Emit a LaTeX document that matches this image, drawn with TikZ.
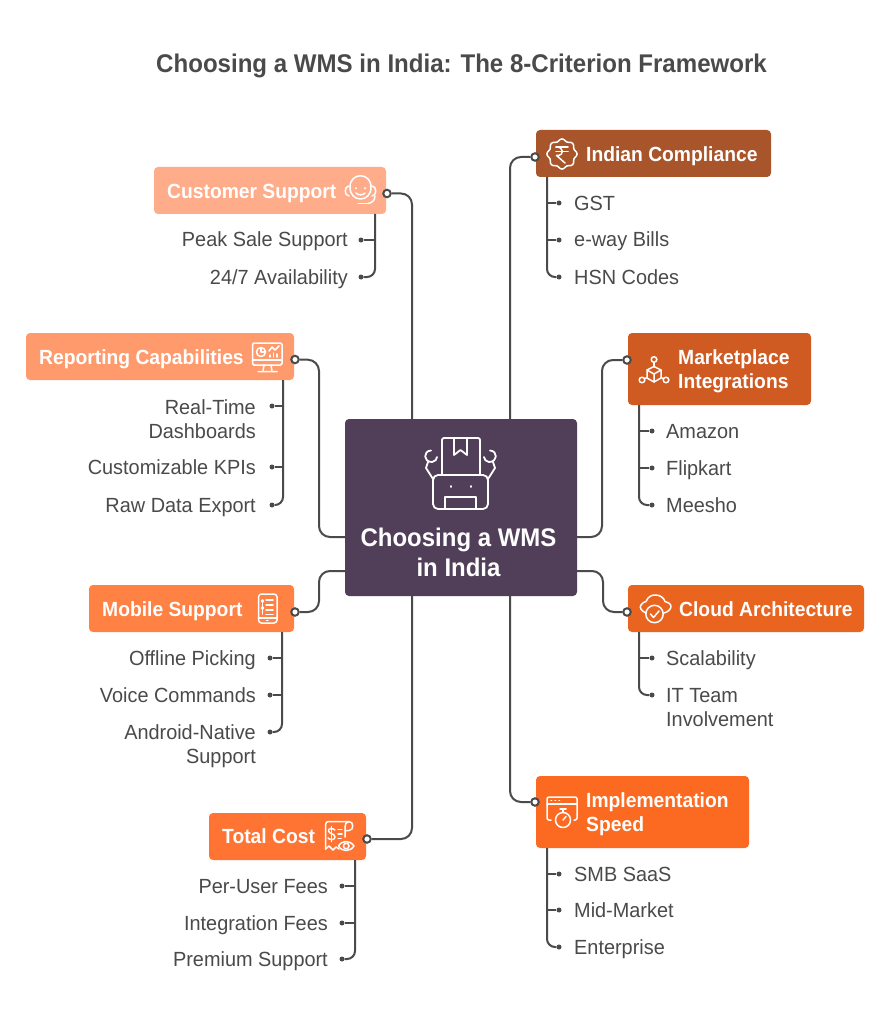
\documentclass[tikz,border=0pt]{standalone}
\usepackage{fontspec}
\setmainfont[UprightFeatures={FakeStretch=0.97},BoldFeatures={FakeStretch=0.94}]{Liberation Sans}
\definecolor{ink}{HTML}{4A4A4A}
\definecolor{cenC}{HTML}{513E58}
\definecolor{c1}{HTML}{A9552C}
\definecolor{c2}{HTML}{CF5B23}
\definecolor{c3}{HTML}{E9641F}
\definecolor{c4}{HTML}{FC6A21}
\definecolor{c5}{HTML}{FFAC8A}
\definecolor{c6}{HTML}{FF9A6D}
\definecolor{c7}{HTML}{FF8144}
\definecolor{c8}{HTML}{FF7433}
\tikzset{
  x=1pt,y=-1pt,
  boxn/.style={fill=#1,rounded corners=4pt,inner sep=0pt,outer sep=0pt},
  head/.style={text=white,font=\fontsize{20.5}{24.5}\selectfont\bfseries,inner sep=0pt,align=left},
  subl/.style={text=ink,font=\fontsize{20.5}{24.5}\selectfont,inner sep=0pt,anchor=base west,align=left},
  subr/.style={text=ink,font=\fontsize{20.5}{24.5}\selectfont,inner sep=0pt,anchor=base east,align=right},
  wire/.style={draw=ink,line width=2pt,rounded corners=11pt},
  twig/.style={draw=ink,line width=2pt},
  hubdot/.style={circle,draw=ink,fill=white,line width=2pt,minimum size=7.5pt,inner sep=0pt},
  leafdot/.style={circle,fill=ink,minimum size=5pt,inner sep=0pt},
  ico/.style={draw=white,line width=1.5pt,line cap=round,line join=round},
}
\newcommand{\bx}[6]{\node[boxn=#6,minimum width=#4pt-#2pt,minimum height=#5pt-#3pt,anchor=north west] (#1) at (#2,#3) {};}
\begin{document}
\begin{tikzpicture}
\useasboundingbox (0,0) rectangle (890,1024);
\fill[white] (0,0) rectangle (890,1024);
\node[text=ink,font=\fontsize{25.6}{30}\selectfont\bfseries,inner sep=0pt] (title) at (461.5,66) {Choosing a WMS in India: The 8-Criterion Framework};

% centre
\bx{center}{345}{419}{577}{596}{cenC}
% hubs
\bx{bA}{536}{130}{771}{177}{c1}
\bx{bB}{628}{333}{811}{405}{c2}
\bx{bC}{628}{585}{864}{632}{c3}
\bx{bD}{536}{776}{749}{848}{c4}
\bx{bE}{154}{167}{386}{214}{c5}
\bx{bF}{26}{333}{294}{380}{c6}
\bx{bG}{89}{585}{294}{632}{c7}
\bx{bH}{209}{813}{366}{860}{c8}

% hub connection circles
\node[hubdot] (hA) at (535,157) {};
\node[hubdot] (hB) at (627,360) {};
\node[hubdot] (hC) at (627,612) {};
\node[hubdot] (hD) at (535,802) {};
\node[hubdot] (hE) at (387,193.5) {};
\node[hubdot] (hF) at (295,359.5) {};
\node[hubdot] (hG) at (295,612) {};
\node[hubdot] (hH) at (367,839) {};

% main connectors
\coordinate (oA) at (510,419);
\coordinate (oB) at (577,537);
\coordinate (oC) at (577,571);
\coordinate (oD) at (510,596);
\coordinate (oE) at (412,419);
\coordinate (oF) at (345,537);
\coordinate (oG) at (345,571);
\coordinate (oH) at (412,596);
\draw[wire] (oA) |- (hA.west);
\draw[wire] (oB) -| (602,360) -- (hB.west);
\draw[wire] (oC) -| (603,612) -- (hC.west);
\draw[wire] (oD) |- (hD.west);
\draw[wire] (oE) |- (hE.east);
\draw[wire] (oF) -| (319,360) -- (hF.east);
\draw[wire] (oG) -| (319,612) -- (hG.east);
\draw[wire] (oH) |- (hH.east);

% leaves
\newcommand{\leafset}[5]{% name, trunk x, dot x, box, list of y
  \foreach \n/\yy [count=\i] in {#5} {
    \node[leafdot] (#1\i) at (#3,\yy) {};
  }
}
\leafset{lA}{547}{559}{bA}{a/203,b/240,c/277}
\leafset{lB}{639}{652}{bB}{a/431,b/468,c/505}
\leafset{lC}{639}{652}{bC}{a/658,b/695}
\leafset{lD}{547}{559}{bD}{a/874,b/910,c/947}
\leafset{lE}{375}{361}{bE}{a/240,b/277}
\leafset{lF}{283}{272}{bF}{a/406,b/467,c/505}
\leafset{lG}{282}{270}{bG}{a/658,b/695,c/732}
\leafset{lH}{355}{342}{bH}{a/886,b/923,c/959}

\draw[twig] (lA1) -- (547,203);
\draw[twig] (lA2) -- (547,240);
\draw[twig,rounded corners=8pt] (547,177) |- (lA3);
\draw[twig] (lB1) -- (639,431);
\draw[twig] (lB2) -- (639,468);
\draw[twig,rounded corners=8pt] (639,405) |- (lB3);
\draw[twig] (lC1) -- (639,658);
\draw[twig,rounded corners=8pt] (639,632) |- (lC2);
\draw[twig] (lD1) -- (547,874);
\draw[twig] (lD2) -- (547,910);
\draw[twig,rounded corners=8pt] (547,848) |- (lD3);
\draw[twig] (lE1) -- (375,240);
\draw[twig,rounded corners=8pt] (375,214) |- (lE2);
\draw[twig] (lF1) -- (283,406);
\draw[twig] (lF2) -- (283,467);
\draw[twig,rounded corners=8pt] (283,380) |- (lF3);
\draw[twig] (lG1) -- (282,658);
\draw[twig] (lG2) -- (282,695);
\draw[twig,rounded corners=8pt] (282,632) |- (lG3);
\draw[twig] (lH1) -- (355,886);
\draw[twig] (lH2) -- (355,923);
\draw[twig,rounded corners=8pt] (355,860) |- (lH3);

% headings
\node[head,align=center,font=\fontsize{25.5}{30}\selectfont\bfseries] (tCenter) at (458.5,552) {Choosing a WMS\\in India};
\node[head,anchor=west] (tA) at (586,156) {Indian Compliance};
\node[head,anchor=west] (tB) at (678,371) {Marketplace\\Integrations};
\node[head,anchor=west] (tC) at (679,609) {Cloud Architecture};
\node[head,anchor=west] (tD) at (586,814) {Implementation\\Speed};
\node[head,anchor=west] (tE) at (167,193) {Customer Support};
\node[head,anchor=west] (tF) at (39,359) {Reporting Capabilities};
\node[head,anchor=west] (tG) at (102,611) {Mobile Support};
\node[head,anchor=west] (tH) at (222,836) {Total Cost};

% sub labels
\node[subl] (sA1) at (574,210.5) {GST};
\node[subl] (sA2) at (574,247) {e-way Bills};
\node[subl] (sA3) at (574,284) {HSN Codes};
\node[subl] (sB1) at (666,438) {Amazon};
\node[subl] (sB2) at (666,475) {Flipkart};
\node[subl] (sB3) at (666,512) {Meesho};
\node[subl] (sC1) at (666,665) {Scalability};
\node[subl,anchor=north west] (sC2) at (666,688) {IT Team\\Involvement};
\node[subl] (sD1) at (574,881) {SMB SaaS};
\node[subl] (sD2) at (574,917) {Mid-Market};
\node[subl] (sD3) at (574,954) {Enterprise};
\node[subr] (sE1) at (348,247) {Peak Sale Support};
\node[subr] (sE2) at (348,284) {24/7 Availability};
\node[subr,anchor=north east] (sF1) at (256,399) {Real-Time\\Dashboards};
\node[subr] (sF2) at (256,474) {Customizable KPIs};
\node[subr] (sF3) at (256,512) {Raw Data Export};
\node[subr] (sG1) at (256,665) {Offline Picking};
\node[subr] (sG2) at (256,702) {Voice Commands};
\node[subr,anchor=north east] (sG3) at (256,724) {Android-Native\\Support};
\node[subr] (sH1) at (328,893) {Per-User Fees};
\node[subr] (sH2) at (328,930) {Integration Fees};
\node[subr] (sH3) at (328,966) {Premium Support};

% icons -----------------------------------------------
% centre robot
\begin{scope}[ico,line width=1.8pt]
  \draw[rounded corners=2pt] (442,475) -- (442,438) -- (480,438) -- (480,475);
  \draw (454,438) -- (454,455) -- (460.5,450) -- (467,455) -- (467,438);
  \draw[rounded corners=5pt] (433,509) rectangle (488,475);
  \draw (445,509) -- (445,497) -- (476,497) -- (476,509);
  \draw (451,486) -- (451,487) (471,486) -- (471,487);
  \draw (433,479) -- (426,468) -- (428,462);
  \draw (488,479) -- (495,468) -- (493,462);
  \draw (431,450.5) .. controls (423,451) and (423,462) .. (432,462) .. controls (435,462) and (437,459) .. (437,457);
  \draw (490,450.5) .. controls (498,451) and (498,462) .. (489,462) .. controls (486,462) and (484,459) .. (484,457);
\end{scope}
% rupee badge
\begin{scope}[ico]
  \draw plot[smooth cycle,samples=48,domain=0:352.5,variable=\t] ({562+(14+1.1*cos(8*\t))*cos(\t)},{154+(14+1.1*cos(8*\t))*sin(\t)});
  \draw (556,147) -- (568,147) (556,151.5) -- (568,151.5);
  \draw (556,147) .. controls (564,146.5) and (565,156) .. (556.5,155.5) -- (565,163);
\end{scope}
% marketplace
\begin{scope}[ico]
  \draw (654,359.5) circle[radius=2.8pt];
  \draw (642,380) circle[radius=2.8pt];
  \draw (666,380) circle[radius=2.8pt];
  \draw (654,362.5) -- (654,367);
  \draw (654,366.5) -- (661,370) -- (661,378) -- (654,382) -- (647,378) -- (647,370) -- cycle;
  \draw (647,370) -- (654,374) -- (661,370) (654,374) -- (654,382);
  \draw (645,378.5) -- (647,377.5) (663,378.5) -- (661,377.5);
\end{scope}
% cloud
\begin{scope}[ico]
  \draw (646,613) .. controls (641,611) and (639,607) .. (641,605) .. controls (642,603) and (644,602) .. (646,601.5) .. controls (648,596) and (653,594.5) .. (656,595) .. controls (660,595) and (664,598) .. (665,601.5) .. controls (668,602) and (671,604) .. (671,606.5) .. controls (671,609) and (668,612) .. (664,613);
  \draw (654.5,614) circle[radius=8.7pt];
  \draw (650.5,614) -- (653.5,617.5) -- (659,611);
\end{scope}
% implementation
\begin{scope}[ico]
  \draw[rounded corners=2pt] (551,820) -- (547,820) -- (547,797) -- (577,797) -- (577,820) -- (574,820);
  \draw (547,804) -- (577,804);
  \draw (551,800.5) -- (551.5,800.5) (555,800.5) -- (555.5,800.5) (559,800.5) -- (559.5,800.5);
  \draw (563,820) circle[radius=7.5pt];
  \draw (563,812.5) -- (563,809) (560,809) -- (566,809);
  \draw (563,820) -- (566,816.5);
\end{scope}
% headset
\begin{scope}[ico]
  \draw (350,187) .. controls (350,172) and (371,172) .. (371,187) .. controls (371,195) and (366,199) .. (360.5,199) .. controls (355,199) and (350,195) .. (350,187) -- cycle;
  \draw (349,186) .. controls (344,186) and (344,196) .. (349,196);
  \draw (372,186) .. controls (377,186) and (377,196) .. (372,196);
  \draw (356,193) .. controls (358,195.5) and (363,195.5) .. (365,193);
  \draw (356,188) -- (356,188.5) (365,188) -- (365,188.5);
  \draw (375,196) .. controls (375,200) and (372,203) .. (368,203.5);
  \draw (358,203.5) -- (368,203.5);
\end{scope}
% dashboard
\begin{scope}[ico]
  \draw[rounded corners=1.5pt] (252.5,343) rectangle (282,365);
  \draw (252.5,360) -- (282,360);
  \draw (264,365) -- (263,371) (271,365) -- (272,371) (258,371.5) -- (277,371.5);
  \draw (261,352) circle[radius=4.5pt];
  \draw (261,352) -- (261,347.5) (261,352) -- (265.5,352);
  \draw (269,351) -- (272,347) -- (275,350) -- (279,346);
  \draw (270,357) -- (270,355) (273.5,357) -- (273.5,353) (277,357) -- (277,354);
\end{scope}
% mobile
\begin{scope}[ico]
  \draw[rounded corners=3pt] (258.5,594) rectangle (277,623);
  \draw (258.5,618) -- (277,618);
  \draw (266.5,620.5) -- (268,620.5);
  \draw (262.5,600) -- (262.5,614);
  \draw (266,600) -- (273,600) (266,605) -- (273,605) (266,610) -- (273,610) (266,614.5) -- (273,614.5);
  \draw[fill=white] (262.5,601) circle[radius=1pt] (262.5,608) circle[radius=1pt];
\end{scope}
% receipt with eye
\begin{scope}[ico]
  \draw (325.5,849) -- (325.5,825) .. controls (325.5,822) and (327,821.5) .. (329,821.5) -- (349,821.5) .. controls (354,821.5) and (354,830.5) .. (349,830.5) -- (345,830.5);
  \draw (349,821.5) .. controls (346,822) and (345,824) .. (345,827) -- (345,837);
  \draw (325.5,849) -- (329,846) -- (333,850) -- (336,847) -- (339,849);
  \draw (335,830) .. controls (332,827.5) and (328,828.5) .. (328.5,831) .. controls (329,834) and (335,833.5) .. (335,837) .. controls (335,840) and (330,840.5) .. (328,838);
  \draw (331.5,826.5) -- (331.5,841.5);
  \draw (338,829.5) -- (342,829.5) (338,834) -- (342,834) (338,838.5) -- (341,838.5);
  \draw (338.5,846) .. controls (342,840) and (350,840) .. (354,846) .. controls (350,852) and (342,852) .. (338.5,846) -- cycle;
  \draw (346.2,846) circle[radius=2.8pt];
\end{scope}
\end{tikzpicture}
\end{document}
